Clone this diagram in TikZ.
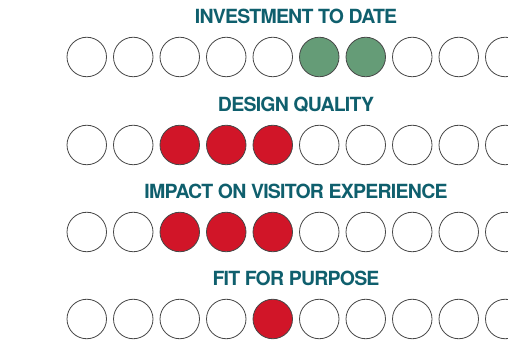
\documentclass[tikz,border=0pt]{standalone}
\usepackage{fontspec}
\newfontfamily\headfont[LetterSpace=-4]{TeX Gyre Heros}
\usepackage{tikz}
\usetikzlibrary{positioning,matrix}
\definecolor{heading}{HTML}{0F5F6D}
\definecolor{invested}{HTML}{659C77}
\definecolor{rated}{HTML}{D11528}
\definecolor{rim}{HTML}{474747}

\begin{document}
\begin{tikzpicture}[
    x=1pt, y=-1pt,
    dot0/.style = {circle, fill=white, minimum size=39.5pt, inner sep=0pt, line width=0.8pt, draw=rim},
    dot1/.style = {dot0, fill=invested},
    dot2/.style = {dot0, fill=rated},
    scale row/.style = {matrix of nodes, nodes in empty cells, ampersand replacement=\&, column sep=6.2pt, inner sep=0pt},
    heading/.style = {font=\headfont\bfseries\fontsize{19.5}{19.5}\selectfont, text=heading, inner sep=0pt},
]
    \useasboundingbox (0,0) rectangle (508,344);
    \clip (0,0) rectangle (508,344);

    % investment
    \matrix (invest) [scale row] at (296,57)
    {
        \node[dot0] {}; \&
        \node[dot0] {}; \&
        \node[dot0] {}; \&
        \node[dot0] {}; \&
        \node[dot0] {}; \&
        \node[dot1] {}; \&
        \node[dot1] {}; \&
        \node[dot0] {}; \&
        \node[dot0] {}; \&
        \node[dot0] {}; \\
    };

    % design quality
    \matrix (design) [scale row] at (296,145)
    {
        \node[dot0] {}; \&
        \node[dot0] {}; \&
        \node[dot2] {}; \&
        \node[dot2] {}; \&
        \node[dot2] {}; \&
        \node[dot0] {}; \&
        \node[dot0] {}; \&
        \node[dot0] {}; \&
        \node[dot0] {}; \&
        \node[dot0] {}; \\
    };

    % visitor experience
    \matrix (impact) [scale row] at (296,232)
    {
        \node[dot0] {}; \&
        \node[dot0] {}; \&
        \node[dot2] {}; \&
        \node[dot2] {}; \&
        \node[dot2] {}; \&
        \node[dot0] {}; \&
        \node[dot0] {}; \&
        \node[dot0] {}; \&
        \node[dot0] {}; \&
        \node[dot0] {}; \\
    };

    % fit for purpose
    \matrix (purpose) [scale row] at (296,319)
    {
        \node[dot0] {}; \&
        \node[dot0] {}; \&
        \node[dot0] {}; \&
        \node[dot0] {}; \&
        \node[dot2] {}; \&
        \node[dot0] {}; \&
        \node[dot0] {}; \&
        \node[dot0] {}; \&
        \node[dot0] {}; \&
        \node[dot0] {}; \\
    };

    % row labels
    \node [heading, above=12.5pt of invest] (investlabel) {INVESTMENT TO DATE};
    \node [heading, above=12.5pt of design] (designlabel) {DESIGN QUALITY};
    \node [heading, above=12.5pt of impact] (impactlabel) {IMPACT ON VISITOR EXPERIENCE};
    \node [heading, above=12.5pt of purpose] (purposelabel) {FIT FOR PURPOSE};

\end{tikzpicture}
\end{document}
